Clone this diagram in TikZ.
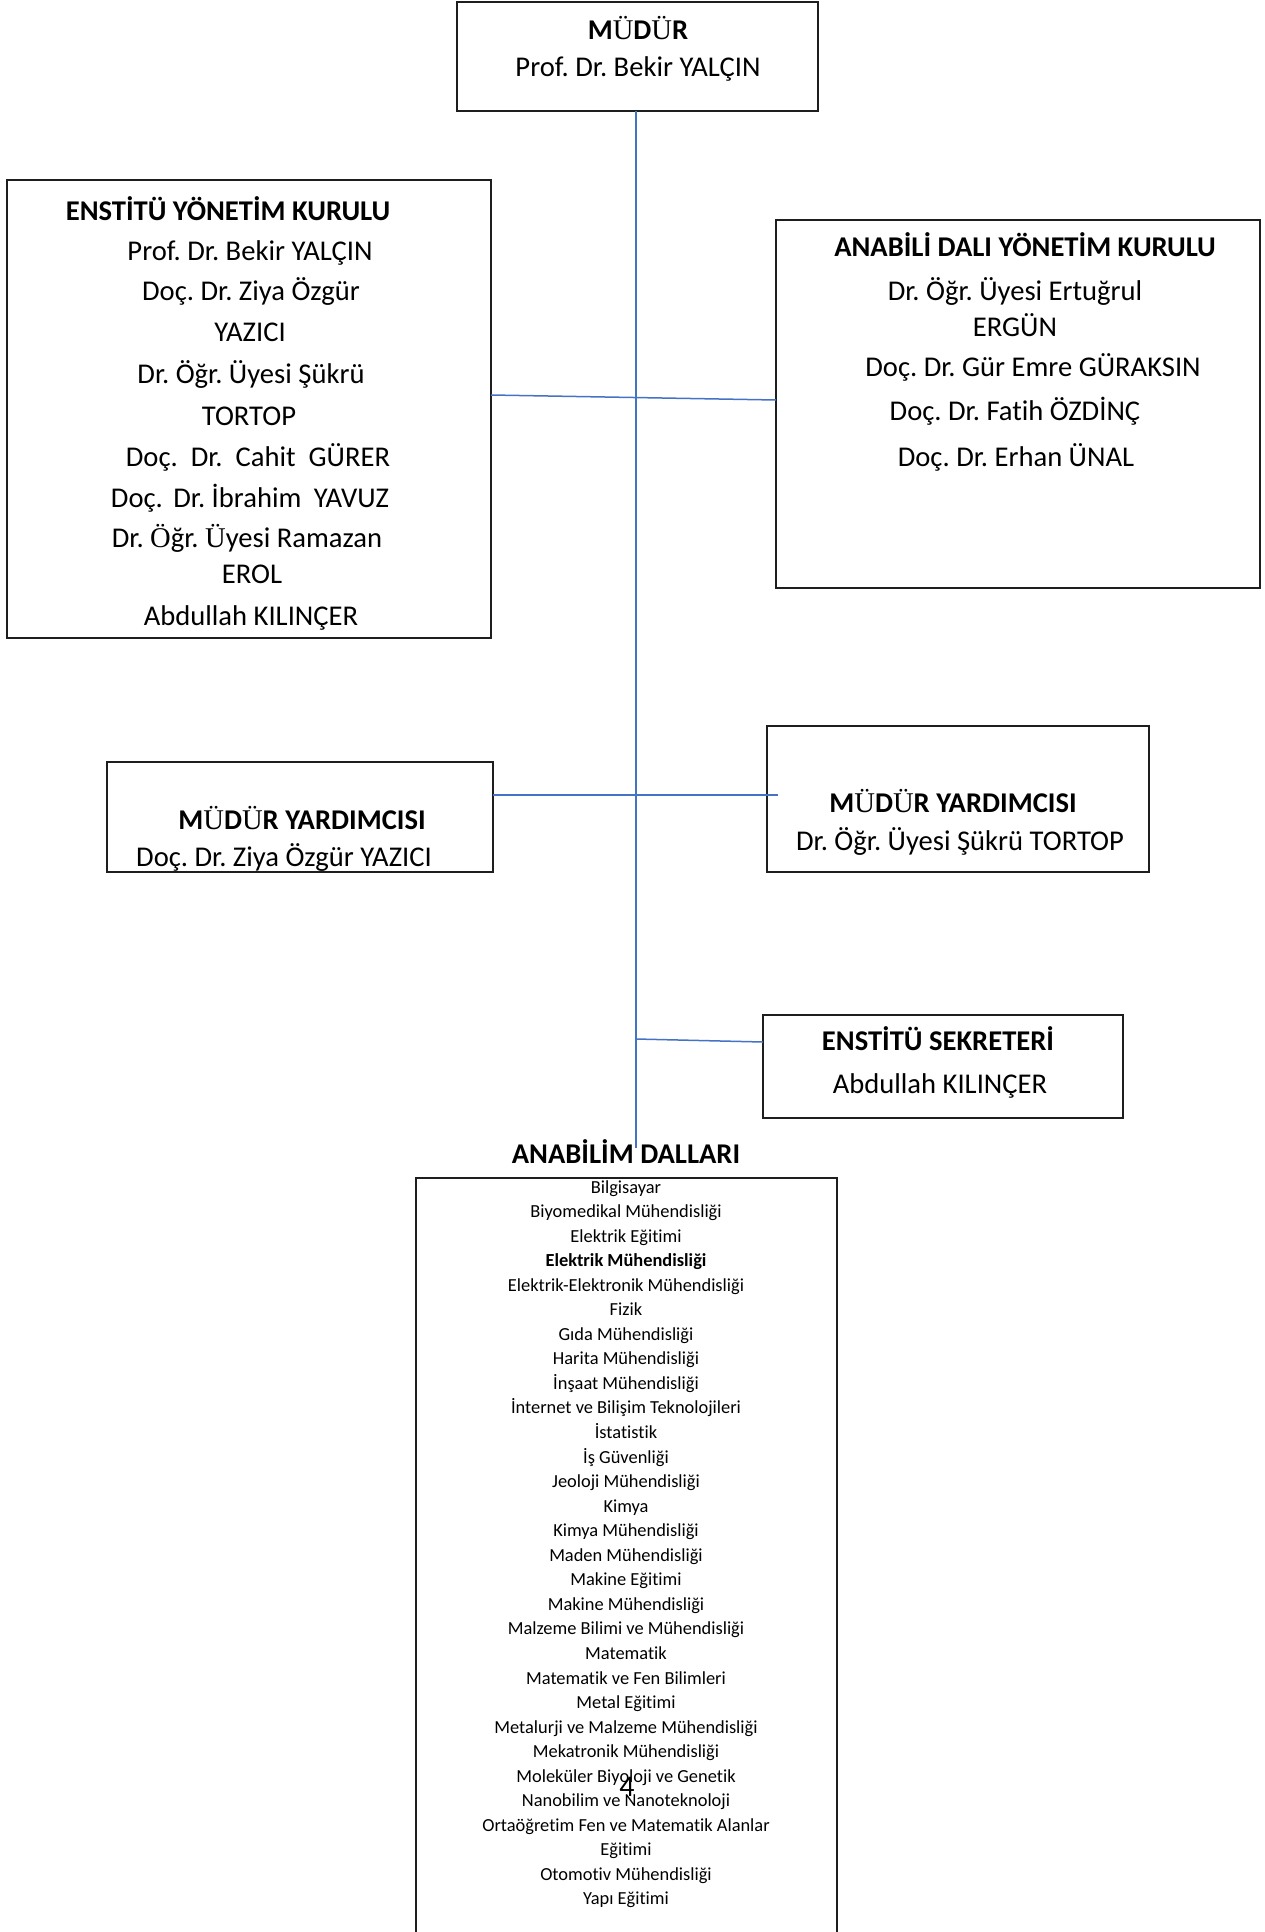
\documentclass[tikz,border=0pt]{standalone}
\usepackage{fontspec}
\setmainfont[Ligatures=NoCommon]{Carlito}
\newfontfamily\serifU{Liberation Serif}
\newcommand\SU[1]{{\serifU\mdseries #1}}
\frenchspacing
\definecolor{connblue}{RGB}{68,114,196}
\definecolor{boxline}{RGB}{30,30,30}
\tikzset{
  box/.style={draw=boxline, line width=1.3pt, inner sep=0pt, outer sep=0pt, anchor=north west},
  conn/.style={draw=connblue, line width=1.5pt},
  txt/.style={anchor=base, inner sep=0pt, font=\fontsize{28.6}{34}\selectfont},
  ttl/.style={anchor=base, inner sep=0pt, font=\fontsize{28.6}{34}\selectfont\bfseries},
  lst/.style={anchor=base, inner sep=0pt, font=\fontsize{18.4}{22}\selectfont},
}
\begin{document}
\begin{tikzpicture}[x=1pt,y=-1pt]
\useasboundingbox (0,0) rectangle (1265,1932);
% boxes
\node[box, minimum width=361pt, minimum height=109pt] (mudur) at (457,2) {};
\node[box, minimum width=484pt, minimum height=458pt] (eyk) at (7,180) {};
\node[box, minimum width=484pt, minimum height=368pt] (abdyk) at (776,220) {};
\node[box, minimum width=386pt, minimum height=110pt] (my1) at (107,762) {};
\node[box, minimum width=382pt, minimum height=146pt] (my2) at (767,726) {};
\node[box, minimum width=360pt, minimum height=103pt] (es) at (763,1015) {};
\coordinate (lbl) at (416,1940);
\coordinate (ltl) at (416,1178);
\coordinate (ltr) at (837,1178);
\coordinate (lbr) at (837,1940);
\draw[draw=boxline, line width=1.3pt] (lbl) -- (ltl) -- (ltr) -- (lbr);

% connectors
\coordinate (vend) at (636,1148);
\coordinate (esj) at (636,1039);
\draw[conn] (vend |- mudur.south) -- (vend);
\draw[conn] ([yshift=14pt]eyk.east) -- ([yshift=4pt]abdyk.west);
\draw[conn] ([yshift=22pt]my1.east) -- ([xshift=11pt,yshift=4pt]my2.west);
\draw[conn] (esj) -- ([yshift=24.5pt]es.west);

% MÜDÜR
\node[ttl] (t1) at (638,39.3) {M\SU{Ü}D\SU{Ü}R};
\node[txt] (t2) at (638,76.7) {Prof. Dr. Bekir YALÇIN};

% Enstitü Yönetim Kurulu
\node[ttl] (e0) at (228,220.7) {ENSTİTÜ YÖNETİM KURULU};
\node[txt] (e1) at (250,260) {Prof. Dr. Bekir YALÇIN};
\node[txt] (e2) at (251,300) {Doç. Dr. Ziya Özgür};
\node[txt] (e3) at (250,341.7) {YAZICI};
\node[txt] (e4) at (251,383) {Dr. Öğr. Üyesi Şükrü};
\node[txt] (e5) at (249,425) {TORTOP};
\node[txt] (e6) at (258,466.7) {Doç.\ \ Dr.\ \ Cahit\ \ GÜRER};
\node[txt] (e7) at (250,507) {Doç.\hspace{4pt} Dr. İbrahim\hspace{6pt} YAVUZ};
\node[txt] (e8) at (247,547) {Dr. \SU{Ö}ğr. \SU{Ü}yesi Ramazan};
\node[txt] (e9) at (252,583) {EROL};
\node[txt] (e10) at (251,625) {Abdullah KILINÇER};

% Anabilim Dalı Yönetim Kurulu
\node[ttl] (a0) at (1025,256.7) {ANABİLİ DALI YÖNETİM KURULU};
\node[txt] (a1) at (1015,300) {Dr. Öğr. Üyesi Ertuğrul};
\node[txt] (a2) at (1015,336) {ERGÜN};
\node[txt] (a3) at (1033,376.7) {Doç. Dr. Gür Emre GÜRAKSIN};
\node[txt] (a4) at (1015,420.7) {Doç. Dr. Fatih ÖZDİNÇ};
\node[txt] (a5) at (1016,466.7) {Doç. Dr. Erhan ÜNAL};

% Müdür yardımcıları
\node[ttl] (m1) at (302,829) {M\SU{Ü}D\SU{Ü}R YARDIMCISI};
\node[txt] (m2) at (284,866) {Doç. Dr. Ziya Özgür YAZICI};
\node[ttl] (m3) at (953,812) {M\SU{Ü}D\SU{Ü}R YARDIMCISI};
\node[txt] (m4) at (960,850) {Dr. Öğr. Üyesi Şükrü TORTOP};

% Enstitü sekreteri
\node[ttl] (s1) at (938,1050) {ENSTİTÜ SEKRETERİ};
\node[txt] (s2) at (940,1093) {Abdullah KILINÇER};

% Anabilim dalları
\node[ttl] (ad) at (626,1163) {ANABİLİM DALLARI};
\foreach \t [count=\i] in {Bilgisayar, Biyomedikal Mühendisliği, Elektrik Eğitimi,
  {\bfseries Elektrik Mühendisliği}, Elektrik-Elektronik Mühendisliği, Fizik,
  Gıda Mühendisliği, Harita Mühendisliği, İnşaat Mühendisliği,
  İnternet ve Bilişim Teknolojileri, İstatistik, İş Güvenliği,
  Jeoloji Mühendisliği, Kimya, Kimya Mühendisliği, Maden Mühendisliği,
  Makine Eğitimi, Makine Mühendisliği, Malzeme Bilimi ve Mühendisliği,
  Matematik, Matematik ve Fen Bilimleri, Metal Eğitimi,
  Metalurji ve Malzeme Mühendisliği, Mekatronik Mühendisliği,
  Moleküler Biyoloji ve Genetik, Nanobilim ve Nanoteknoloji,
  Ortaöğretim Fen ve Matematik Alanlar, Eğitimi, Otomotiv Mühendisliği,
  Yapı Eğitimi}
  \node[lst] (l\i) at (626,{1193+(\i-1)*24.55}) {\t};

% page number
\node[anchor=base, inner sep=0pt, font=\fontsize{30}{34}\selectfont] (pg) at (627,1796) {4};
\end{tikzpicture}
\end{document}
